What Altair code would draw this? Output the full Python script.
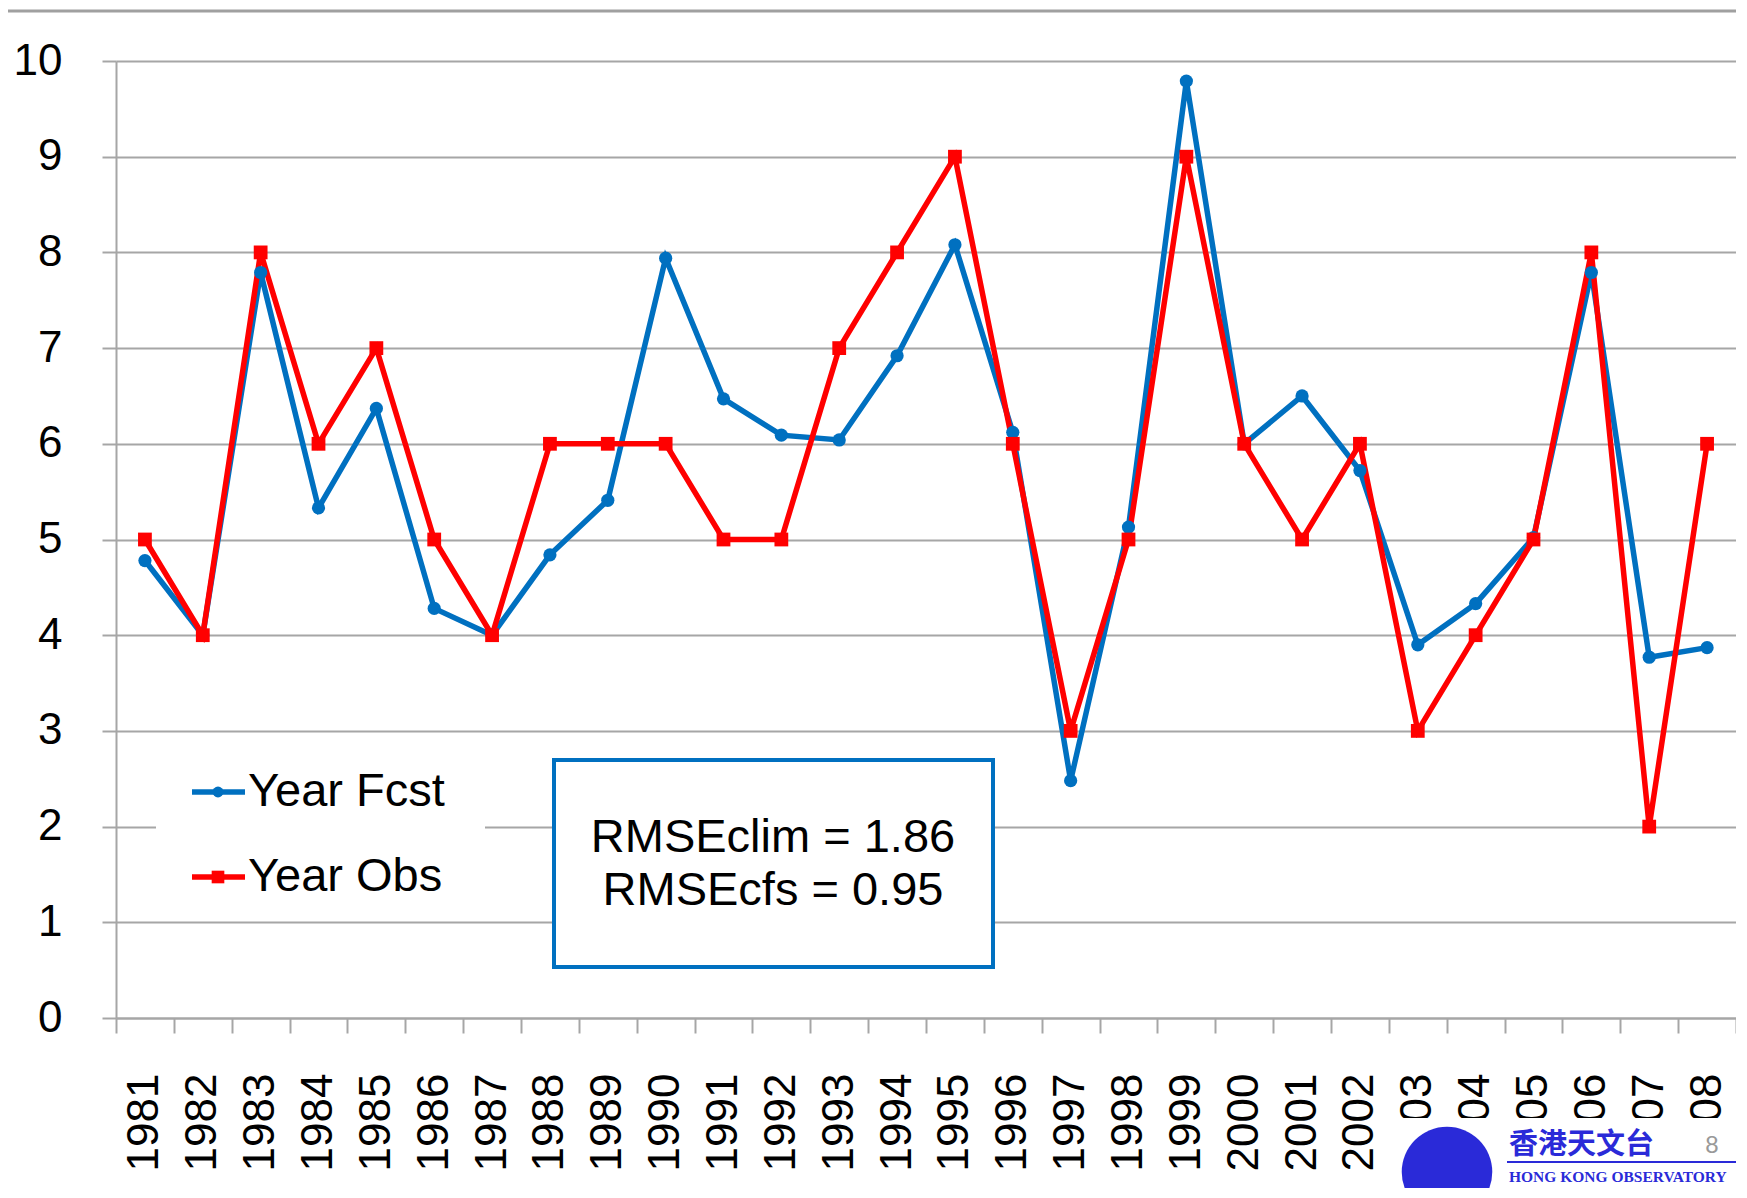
import altair as alt
import pandas as pd

# ---------------- data ----------------
years = ["1981", "1982", "1983", "1984", "1985", "1986", "1987", "1988", "1989", "1990",
         "1991", "1992", "1993", "1994", "1995", "1996", "1997", "1998", "1999", "2000",
         "2001", "2002", "2003", "2004", "2005", "2006", "2007", "2008"]
year_fcst = [4.78, 4.0, 7.79, 5.33, 6.37, 4.28, 4.0, 4.84, 5.41, 7.94,
             6.47, 6.09, 6.04, 6.92, 8.08, 6.12, 2.48, 5.13, 9.79, 6.0,
             6.5, 5.72, 3.9, 4.33, 5.02, 7.79, 3.77, 3.87]
year_obs = [5, 4, 8, 6, 7, 5, 4, 6, 6, 6,
            5, 5, 7, 8, 9, 6, 3, 5, 9, 6,
            5, 6, 3, 4, 5, 8, 2, 6]
series_names = ["Year Fcst", "Year Obs"]
series_colors = ["#0070C0", "#FF0000"]
y_ticks = [0, 1, 2, 3, 4, 5, 6, 7, 8, 9, 10]
box_lines = ["RMSEclim = 1.86", "RMSEcfs = 0.95"]

FONT = "Liberation Sans"
GRID = "#A6A6A6"
W, H = 1620, 957
LW = 5.5

df = pd.DataFrame({
    "year": years * 2,
    "series": [series_names[0]] * len(years) + [series_names[1]] * len(years),
    "value": year_fcst + year_obs,
})
one = pd.DataFrame({"k": [0]})

xenc = alt.X(
    "year:O", sort=years, bandPosition=0.5,
    scale=alt.Scale(type="band", paddingInner=0, paddingOuter=0),
    axis=alt.Axis(title=None, grid=False, tickBand="extent", ticks=True, tickSize=15,
                  tickWidth=2, tickColor=GRID, domainColor=GRID, domainWidth=2,
                  labelAngle=270, labelFontSize=44, labelFont=FONT, labelColor="black",
                  labelPadding=40, labelOverlap=False, labelFlush=False),
)
yenc = alt.Y(
    "value:Q",
    scale=alt.Scale(domain=[0, 10], nice=False, zero=True),
    axis=alt.Axis(title=None, values=y_ticks, grid=True, gridColor=GRID, gridWidth=2,
                  tickSize=14, tickWidth=2, tickColor=GRID, domainColor=GRID, domainWidth=2,
                  labelFontSize=44, labelFont=FONT, labelColor="black", labelPadding=40),
)
color = alt.Color("series:N", scale=alt.Scale(domain=series_names, range=series_colors), legend=None)

lines = alt.Chart(df).mark_line(strokeWidth=LW).encode(x=xenc, y=yenc, color=color)
points = alt.Chart(df).mark_point(filled=True, opacity=1).encode(
    x=xenc, y=yenc, color=color,
    shape=alt.Shape("series:N", scale=alt.Scale(domain=series_names, range=["circle", "square"]), legend=None),
    size=alt.Size("series:N", scale=alt.Scale(domain=series_names, range=[175, 190]), legend=None),
)

layers = []

# top slide rule
layers.append(alt.Chart(one).mark_rule(color="#A0A0A0", strokeWidth=3).encode(
    x=alt.value(-108), x2=alt.value(W), y=alt.value(-50)))

# legend background
layers.append(alt.Chart(one).mark_rect(color="white").encode(
    x=alt.value(40), x2=alt.value(369), y=alt.value(697), y2=alt.value(841)))

# RMSE box
layers.append(alt.Chart(one).mark_rect(fill="white", stroke="#0070C0", strokeWidth=4).encode(
    x=alt.value(438), x2=alt.value(877), y=alt.value(699), y2=alt.value(906)))

layers.append(lines)
layers.append(points)

for txt, yy in zip(box_lines, [777, 830]):
    layers.append(alt.Chart(one).mark_text(text=txt, font=FONT, fontSize=47, color="black",
                                           align="center", baseline="middle").encode(
        x=alt.value(657), y=alt.value(yy)))

# manual legend
for name, col, shp, sz, yy in zip(series_names, series_colors, ["circle", "square"], [120, 160], [731, 816]):
    layers.append(alt.Chart(one).mark_rule(color=col, strokeWidth=LW).encode(
        x=alt.value(76), x2=alt.value(129), y=alt.value(yy)))
    layers.append(alt.Chart(one).mark_point(filled=True, opacity=1, color=col, shape=shp, size=sz).encode(
        x=alt.value(102), y=alt.value(yy)))
    layers.append(alt.Chart(one).mark_text(text=name, font=FONT, fontSize=47, color="black",
                                           align="left", baseline="middle").encode(
        x=alt.value(132), y=alt.value(yy)))

# logo area (slide footer)
LOGO = "#2A2AD8"
layers.append(alt.Chart(one).mark_rect(color="white").encode(
    x=alt.value(1270), x2=alt.value(W), y=alt.value(1057), y2=alt.value(1130)))
layers.append(alt.Chart(one).mark_point(filled=True, opacity=1, color=LOGO, shape="circle", size=8200).encode(
    x=alt.value(1331), y=alt.value(1111)))
layers.append(alt.Chart(one).mark_text(text="香港天文台", font="Noto Sans CJK TC", fontWeight="bold",
                                       fontSize=29, color=LOGO, align="left", baseline="middle").encode(
    x=alt.value(1393), y=alt.value(1084)))
layers.append(alt.Chart(one).mark_text(text="8", font=FONT, fontSize=24, color="#999999",
                                       align="center", baseline="middle").encode(
    x=alt.value(1596), y=alt.value(1085)))
layers.append(alt.Chart(one).mark_rule(color=LOGO, strokeWidth=2).encode(
    x=alt.value(1391), x2=alt.value(W), y=alt.value(1101)))
layers.append(alt.Chart(one).mark_text(text="HONG KONG OBSERVATORY", font="Liberation Serif", fontWeight="bold",
                                       fontSize=15.5, color=LOGO, align="left", baseline="middle").encode(
    x=alt.value(1393), y=alt.value(1116)))

chart = alt.layer(*layers).properties(
    width=W, height=H,
    autosize=alt.AutoSizeParams(type="none"),
    padding={"left": 108, "top": 53, "right": 0, "bottom": 170},
    background="white",
).configure_view(stroke=None)

chart.save("out.html", embed_options={"renderer": "svg", "actions": False})
